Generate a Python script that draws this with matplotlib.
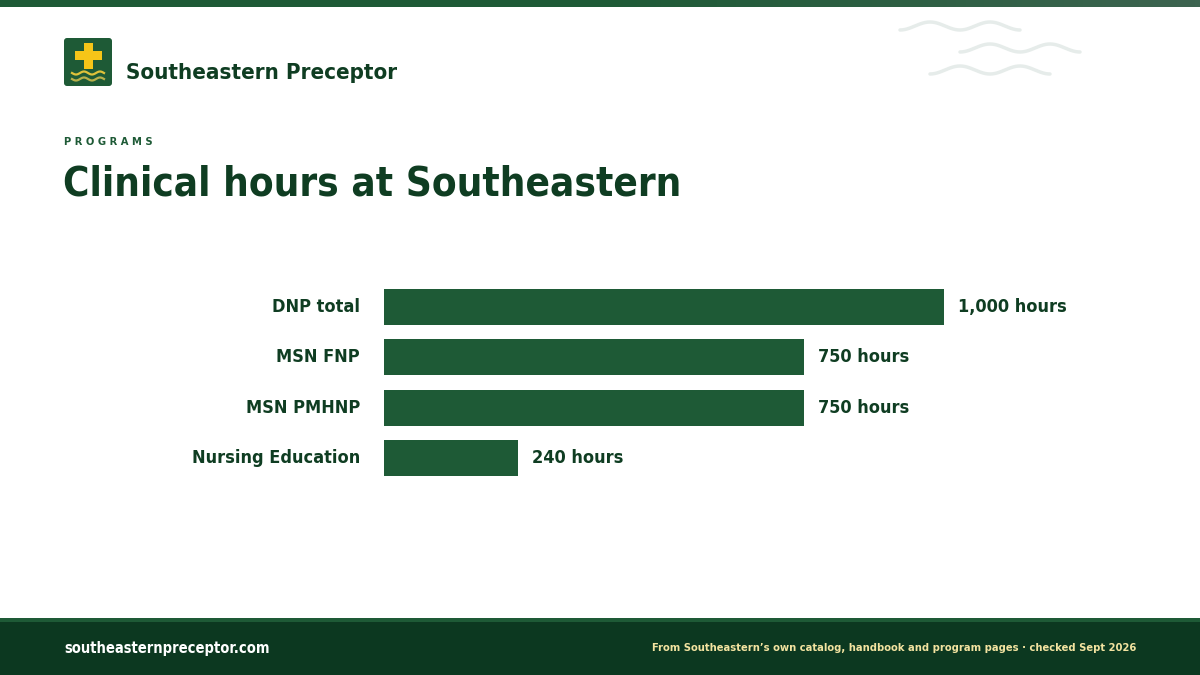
import matplotlib
matplotlib.use("Agg")
import matplotlib.pyplot as plt
import numpy as np
from matplotlib.patches import Rectangle, FancyBboxPatch
from matplotlib.colors import LinearSegmentedColormap

categories = ["DNP total", "MSN FNP", "MSN PMHNP", "Nursing Education"]
hours = [1000, 750, 750, 240]
value_labels = ["1,000 hours", "750 hours", "750 hours", "240 hours"]

FONT = ["DejaVu Sans"]
plt.rcParams['font.family'] = FONT
ST = "condensed"
DARK = "#0f3d22"
BAR = "#1e5a36"
FOOT = "#0c3820"

W, H = 1200, 675
fig = plt.figure(figsize=(12, 6.75), dpi=100)
bg = fig.add_axes([0, 0, 1, 1])

grad = np.linspace(0, 1, 256)[None, :]
cm = LinearSegmentedColormap.from_list("g", ["#1e5a36", "#1e5a36", "#3d6450"])
bg.imshow(grad, extent=[0, W, 7, 0], cmap=cm, aspect="auto")
bg.set_xlim(0, W); bg.set_ylim(H, 0); bg.axis("off")

def wave(x0, x1, y, amp=4):
    x = np.linspace(x0, x1, 200)
    bg.plot(x, y + amp * np.cos((x - x0) / (x1 - x0) * 4 * np.pi),
            color="#e6ecea", lw=2.5, solid_capstyle="round")
wave(900, 1020, 26)
wave(960, 1080, 48)
wave(930, 1050, 70)

bg.add_patch(FancyBboxPatch((64, 38), 48, 48, boxstyle="round,pad=0,rounding_size=3",
                            fc="#1e5a36", ec="none"))
bg.add_patch(Rectangle((84, 43), 9, 26, fc="#f5c518", ec="none"))
bg.add_patch(Rectangle((75, 51), 27, 9, fc="#f5c518", ec="none"))
for yy, c in [(73, "#e0c23a"), (79, "#b8b04a")]:
    x = np.linspace(72, 104, 60)
    bg.plot(x, yy + 1.5 * np.sin((x - 72) / 32 * 4 * np.pi), color=c, lw=1.6)

def T(x, y, s, **kw):
    kw.setdefault("fontweight", "bold")
    kw.setdefault("color", DARK)
    bg.text(x, y, s, fontstretch=ST, **kw)

T(126, 79, "Southeastern Preceptor", fontsize=16, va="baseline")
T(64, 145, "P R O G R A M S", fontsize=8, color="#1e5a36", va="baseline")
T(63, 195, "Clinical hours at Southeastern", fontsize=29, va="baseline")

bg.add_patch(Rectangle((0, 618), W, 4, fc="#1e5a36", ec="none"))
bg.add_patch(Rectangle((0, 622), W, 53, fc=FOOT, ec="none"))
T(64, 648, "southeasternpreceptor.com", fontsize=10.5, color="white", va="center")
T(1136, 648, "From Southeastern\u2019s own catalog, handbook and program pages \u00b7 checked Sept 2026",
  fontsize=8, color="#f3e3a0", va="center", ha="right")

ax = fig.add_axes([384 / W, 1 - 483 / H, 560 / W, 201 / H])
ax.set_xlim(0, 1000)
y = np.arange(len(categories))
ax.barh(y, hours, height=0.72, color=BAR)
ax.set_ylim(3.5, -0.5)
ax.axis("off")
for i, (v, lab, cat) in enumerate(zip(hours, value_labels, categories)):
    ax.text(v + 25, i, lab, va="center", ha="left", fontsize=13, fontweight="bold",
            color=DARK, fontstretch=ST)
    ax.text(-43, i, cat, va="center", ha="right", fontsize=13, fontweight="bold",
            color=DARK, fontstretch=ST)

fig.savefig("out.png", dpi=100, facecolor="white")
